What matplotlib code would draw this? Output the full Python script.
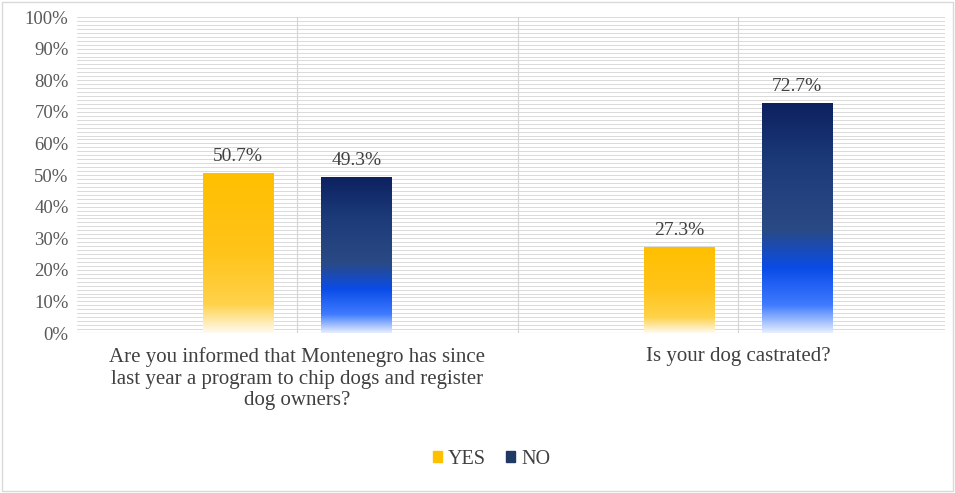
import numpy as np
import matplotlib.pyplot as plt
from matplotlib.colors import LinearSegmentedColormap
from matplotlib.patches import Rectangle

categories = ["Are you informed that Montenegro has since\nlast year a program to chip dogs and register\ndog owners?",
              "Is your dog castrated?"]
yes_vals = [50.7, 27.3]
no_vals = [49.3, 72.7]
series = ["YES", "NO"]

plt.rcParams['font.family'] = ['Liberation Serif', 'DejaVu Serif']

fig = plt.figure(figsize=(9.55, 4.93), dpi=100)
ax = fig.add_axes([0.0806, 0.3245, 0.909, 0.641])

x = np.arange(len(categories))
width = 0.16
offset = 0.134

yes_cmap = LinearSegmentedColormap.from_list("yes", [(0, "#fffaf0"), (0.18, "#ffd24a"), (0.5, "#ffc41a"), (1, "#ffbf00")])
no_cmap = LinearSegmentedColormap.from_list("no", [(0, "#e6eeff"), (0.12, "#3f7bff"), (0.28, "#0a4ce8"), (0.45, "#2a4a85"), (0.75, "#1c3a78"), (1, "#0d2160")])

grad = np.linspace(0, 1, 256).reshape(-1, 1)

def grad_bars(xs, vals, cmap):
    bars = ax.bar(xs, vals, width, color='none', edgecolor='none', zorder=3)
    for b in bars:
        x0, y0 = b.get_x(), b.get_y()
        w, h = b.get_width(), b.get_height()
        im = ax.imshow(grad, cmap=cmap, origin='lower', aspect='auto',
                       extent=[x0, x0 + w, y0, y0 + h], zorder=3)
        im.set_clip_path(b)
    return bars

b1 = grad_bars(x - offset, yes_vals, yes_cmap)
b2 = grad_bars(x + offset, no_vals, no_cmap)

for bars, vals in ((b1, yes_vals), (b2, no_vals)):
    for b, v in zip(bars, vals):
        ax.text(b.get_x() + b.get_width() / 2, v + 2.5, "%.1f%%" % v,
                ha='center', va='bottom', fontsize=14, color='#404040', zorder=4)

ax.set_xlim(-0.5, 1.47)
ax.set_ylim(0, 100)
ax.set_yticks(np.arange(0, 101, 10))
ax.set_yticklabels(["%d%%" % v for v in range(0, 101, 10)], fontsize=13.5, color='#595959')
ax.set_yticks(np.arange(0, 101, 1.25), minor=True)
ax.set_xticks(x)
ax.set_xticklabels(categories, fontsize=15, color='#404040', linespacing=1.2)
ax.tick_params(axis='both', which='both', length=0)
ax.tick_params(axis='x', pad=10)
ax.tick_params(axis='y', pad=6)
ax.grid(axis='y', which='both', color='#d4d4d4', linewidth=0.6, zorder=0)
for xv in [0, 0.5, 1]:
    ax.axvline(xv, color='#d4d4d4', linewidth=0.8, zorder=0)
for s in ax.spines.values():
    s.set_visible(False)
ax.axhline(0, color='#bfbfbf', linewidth=0.8, zorder=1)

h1 = Rectangle((0, 0), 1, 1, color='#ffc000')
h2 = Rectangle((0, 0), 1, 1, color='#1f3864')
fig.legend([h1, h2], series, loc='center', bbox_to_anchor=(0.515, 0.068), ncol=2,
           frameon=False, fontsize=14.5, handlelength=0.45, handleheight=0.45,
           handletextpad=0.3, columnspacing=1.0, labelcolor='#404040')

fig.patches.append(Rectangle((0.002, 0.004), 0.996, 0.992, transform=fig.transFigure,
                             fill=False, edgecolor='#d9d9d9', linewidth=1))

fig.savefig('out.png', dpi=100)
